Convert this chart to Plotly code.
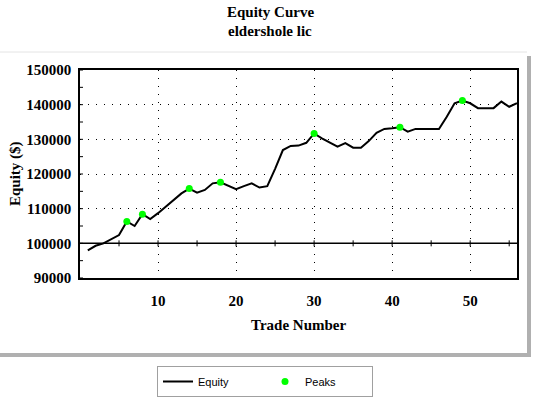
import plotly.graph_objects as go

trade_numbers = list(range(1, 57))
equity = [
    98000, 99300, 100000, 101200, 102400, 106300, 105000, 108400, 107000, 108700,
    110600, 112500, 114400, 115800, 114600, 115400, 117300, 117600, 116500, 115600,
    116500, 117300, 116100, 116500, 121500, 126900, 128100, 128200, 129000, 131700,
    130300, 129000, 127900, 128900, 127600, 127600, 129500, 131900, 133000, 133200,
    133500, 132200, 133000, 133000, 133000, 133000, 136500, 140400, 141200, 140400,
    139000, 139000, 139000, 140900, 139400, 140400,
]
peak_trades = [6, 8, 14, 18, 30, 41, 49]
peak_values = [equity[t - 1] for t in peak_trades]

x_ticks = [10, 20, 30, 40, 50]
x_tick_labels = ["10", "20", "30", "40", "50"]
y_ticks = [90000, 100000, 110000, 120000, 130000, 140000, 150000]
y_tick_labels = ["90000", "100000", "110000", "120000", "130000", "140000", "150000"]
x_minor = [5, 10, 15, 20, 25, 30, 35, 40, 45, 50, 55]
y_minor = list(range(90000, 150001, 5000))
x_range = [0, 56]
y_range = [90000, 150000]
baseline = 100000

serif = "Liberation Serif, Times New Roman, serif"
tickfont = dict(family=serif, size=15, color="black", weight="bold")

fig = go.Figure()
fig.add_trace(go.Scatter(
    x=trade_numbers, y=equity, mode="lines", name="Equity",
    line=dict(color="black", width=2),
))
fig.add_trace(go.Scatter(
    x=peak_trades, y=peak_values, mode="markers", name="Peaks",
    marker=dict(color="#00ff00", size=7),
))

L, R, T, B = 80, 20, 70, 119
W, H = 537, 397
pw, ph = W - L - R, H - T - B


def px2paper_x(px):
    return (px - L) / pw


def px2paper_y(py):
    return (H - B - py) / ph


shapes = []
# panel shadow and panel
shapes.append(dict(type="rect", xref="paper", yref="paper", layer="below",
                   x0=px2paper_x(-2), x1=px2paper_x(531), y0=px2paper_y(56), y1=px2paper_y(357),
                   fillcolor="#b0b0b0", line=dict(width=0)))
shapes.append(dict(type="rect", xref="paper", yref="paper", layer="below",
                   x0=px2paper_x(-2), x1=px2paper_x(527), y0=px2paper_y(52), y1=px2paper_y(353),
                   fillcolor="white", line=dict(width=0)))
shapes.append(dict(type="line", xref="paper", yref="paper", layer="below",
                   x0=px2paper_x(0), x1=px2paper_x(527), y0=px2paper_y(52), y1=px2paper_y(52),
                   line=dict(color="#e4e4e4", width=1)))
# baseline
shapes.append(dict(type="line", xref="x", yref="y", x0=x_range[0], x1=x_range[1],
                   y0=baseline, y1=baseline, line=dict(color="black", width=1.5), layer="below"))
# crossing ticks on baseline
for xv in x_minor:
    shapes.append(dict(type="line", xref="x", yref="y", ysizemode="pixel", yanchor=baseline,
                       x0=xv, x1=xv, y0=-3, y1=3, line=dict(color="black", width=1)))
# crossing ticks on y axis
for yv in y_minor:
    shapes.append(dict(type="line", xref="x", yref="y", xsizemode="pixel", xanchor=x_range[0],
                       y0=yv, y1=yv, x0=-3, x1=3, line=dict(color="black", width=1)))

annotations = [
    dict(text="<b>Equity ($)</b>", xref="paper", yref="paper", x=px2paper_x(15), y=0.5,
         textangle=-90, showarrow=False, font=dict(family=serif, size=15, color="black"),
         xanchor="center", yanchor="middle"),
    dict(text="<b>Trade Number</b>", xref="paper", yref="paper", x=0.5, y=px2paper_y(325),
         showarrow=False, font=dict(family=serif, size=15, color="black"),
         xanchor="center", yanchor="middle"),
    dict(text="<b>Equity Curve</b>", xref="paper", yref="paper", x=px2paper_x(270), y=px2paper_y(12),
         showarrow=False, font=dict(family=serif, size=15, color="black"),
         xanchor="center", yanchor="middle"),
    dict(text="<b>eldershole lic</b>", xref="paper", yref="paper", x=px2paper_x(270), y=px2paper_y(31),
         showarrow=False, font=dict(family=serif, size=15, color="black"),
         xanchor="center", yanchor="middle"),
]

fig.update_layout(
    width=W, height=H,
    margin=dict(l=L, r=R, t=T, b=B, autoexpand=False),
    paper_bgcolor="white", plot_bgcolor="rgba(0,0,0,0)",
    shapes=shapes, annotations=annotations,
    showlegend=True,
    legend=dict(orientation="h", xref="container", yref="container",
                x=157 / W, y=1 - 366 / H, xanchor="left", yanchor="top",
                bordercolor="#a0a0a0", borderwidth=1, bgcolor="white",
                font=dict(family="Liberation Sans, Arial, sans-serif", size=11, color="black"),
                entrywidth=62, entrywidthmode="pixels", tracegroupgap=0),
    xaxis=dict(range=x_range, tickvals=x_ticks, ticktext=x_tick_labels, ticks="",
               showline=True, mirror=True,
               linecolor="black", linewidth=1.5, showgrid=True, gridcolor="black", gridwidth=1,
               griddash="1px,7px", zeroline=False, automargin=False,
               tickfont=tickfont, ticklabelstandoff=8),
    yaxis=dict(range=y_range, tickvals=y_ticks, ticktext=y_tick_labels,
               ticks="", showline=True, mirror=True,
               linecolor="black", linewidth=1.5, showgrid=True, gridcolor="black", gridwidth=1,
               griddash="1px,7px", zeroline=False, automargin=False,
               tickfont=tickfont, ticklabelstandoff=4),
)

fig.write_html(
    "out.html",
    config={"displayModeBar": False},
    post_script="document.body.style.margin='0';document.body.style.overflow='hidden';",
)
